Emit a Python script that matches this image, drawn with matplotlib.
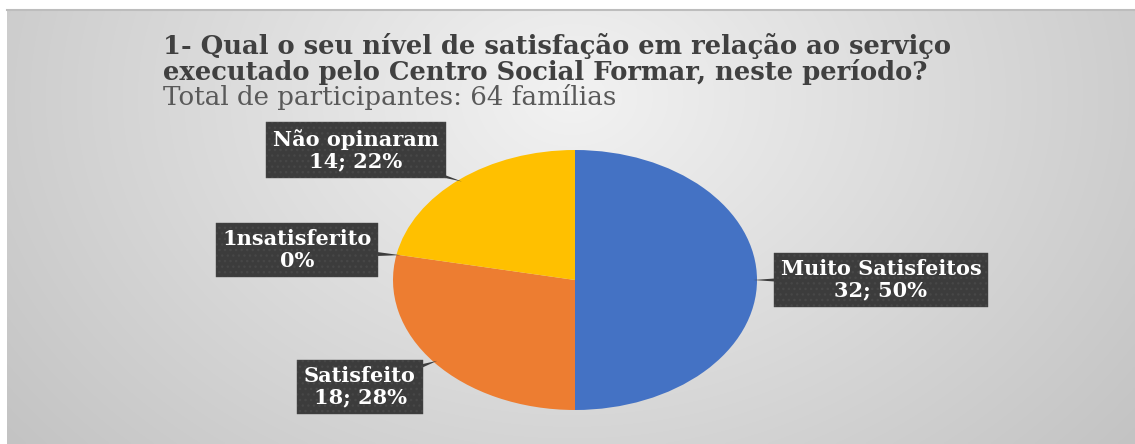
import numpy as np
import matplotlib
matplotlib.use("Agg")
import matplotlib.pyplot as plt
from matplotlib.patches import Polygon

# data
labels = ["Muito Satisfeitos", "Satisfeito", "1nsatisferito", "Não opinaram"]
counts = [32, 18, 0, 14]
colors = ["#4472C4", "#ED7D31", "#A5A5A5", "#FFC000"]
title_lines = ["1- Qual o seu nível de satisfação em relação ao serviço",
               "executado pelo Centro Social Formar, neste período?"]
subtitle = "Total de participantes: 64 famílias"

W, H = 1135, 444
fig = plt.figure(figsize=(W / 100, H / 100), dpi=100)
fig.patch.set_facecolor("white")

# gradient panel
bg = fig.add_axes([7 / W, 0, 1 - 7 / W, 1 - 10 / H])
yy, xx = np.mgrid[0:200, 0:500]
cx, cy = 250, 40
d = np.sqrt(((xx - cx) / 330.0) ** 2 + ((yy - cy) / 260.0) ** 2)
d = np.clip(d, 0, 1)
g = 0.95 - 0.19 * d
bg.imshow(np.dstack([g, g, g]), aspect="auto", extent=[0, 1, 0, 1],
          interpolation="bilinear")
bg.set_xlim(0, 1)
bg.set_ylim(0, 1)
bg.axis("off")
fig.add_artist(plt.Line2D([7 / W, 1], [1 - 10 / H, 1 - 10 / H],
                          transform=fig.transFigure, color="#bdbdbd", lw=1.5))

# titles
fig.text(163 / W, 1 - 46 / H, title_lines[0], family="DejaVu Serif",
         weight="bold", fontsize=18.6, color="#404040", va="center")
fig.text(163 / W, 1 - 72 / H, title_lines[1], family="DejaVu Serif",
         weight="bold", fontsize=18.6, color="#404040", va="center")
fig.text(163 / W, 1 - 97 / H, subtitle, family="DejaVu Serif",
         fontsize=18.8, color="#595959", va="center")

# pie (stretched ellipse like the reference)
pcx, pcy, rx, ry = 575, 280, 182, 130
ax = fig.add_axes([(pcx - rx) / W, 1 - (pcy + ry) / H, 2 * rx / W, 2 * ry / H])
wedges, _ = ax.pie(counts, colors=colors, startangle=90, counterclock=False,
                   radius=1, wedgeprops=dict(linewidth=0))
ax.set_aspect("auto")
ax.set_xlim(-1, 1)
ax.set_ylim(-1, 1)
ax.axis("off")

total = sum(counts)
# label box centres (pixels)
box_pos = [(881, 280), (360, 387), (297, 250), (356, 150)]
for w, lab, c, (bx, by) in zip(wedges, labels, counts, box_pos):
    pct = round(100 * c / total)
    txt = f"{lab}\n{c}; {pct}%" if c else f"{lab}\n{pct}%"
    mid = np.deg2rad((w.theta1 + w.theta2) / 2)
    tip = (0.98 * np.cos(mid), 0.98 * np.sin(mid))
    fig.text(bx / W, 1 - by / H, txt, family="DejaVu Serif", weight="bold",
             fontsize=15, color="white", ha="center", va="center",
             linespacing=1.1, zorder=6,
             bbox=dict(boxstyle="square,pad=0.32", fc="#3c3c3c",
                       ec="#474747", lw=0.3, hatch="..."))
    # small pointer from box to the wedge
    tx, ty = ax.transData.transform(tip)
    px, py = bx, H - by
    pts = np.array([[px, py + 9], [px, py - 9], [tx, ty]])
    poly = Polygon(pts, closed=True, transform=None, fc="#3c3c3c",
                   ec="none", zorder=5)
    fig.add_artist(poly)

fig.savefig("out.png", dpi=100)
